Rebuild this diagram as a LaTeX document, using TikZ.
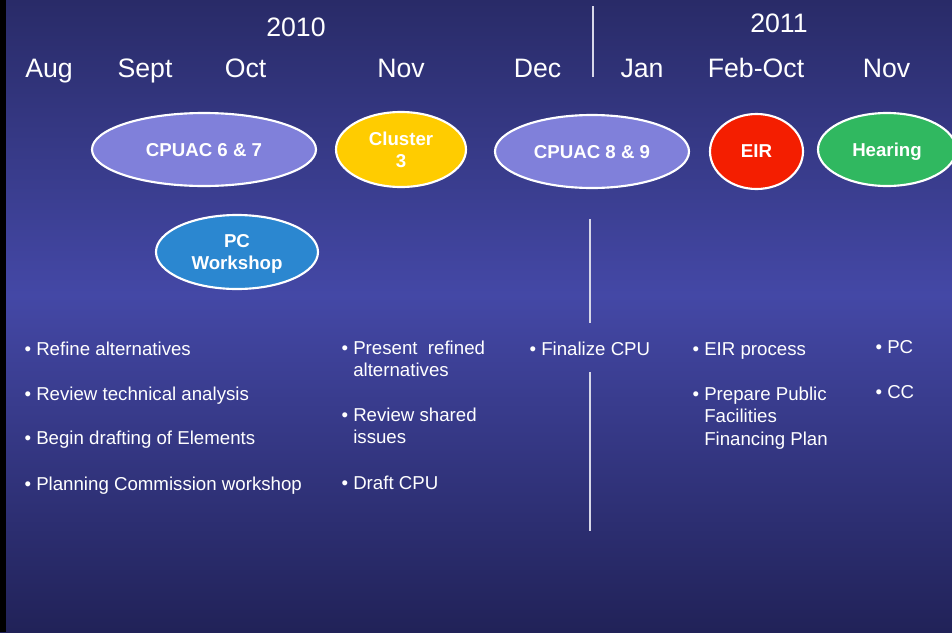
\documentclass[tikz,border=0pt]{standalone}
\usepackage{fontspec}
\setmainfont{Liberation Sans}
\usetikzlibrary{shapes.geometric}
\definecolor{bgtop}{RGB}{41,43,104}
\definecolor{bgmid}{RGB}{68,72,166}
\definecolor{bgbot}{RGB}{33,34,88}
\definecolor{lav}{RGB}{128,128,218}
\definecolor{gold}{RGB}{255,204,0}
\definecolor{eirred}{RGB}{244,30,0}
\definecolor{hgreen}{RGB}{48,184,96}
\definecolor{pcblue}{RGB}{43,135,208}
\definecolor{divc}{RGB}{215,215,232}
\tikzset{
  month/.style={font=\fontsize{20}{24}\selectfont, text=white, inner sep=0pt, anchor=base},
  item/.style={font=\fontsize{14}{17}\selectfont, text=white, inner sep=0pt, anchor=base west},
  oval/.style={ellipse, draw=white, line width=1.6pt, inner sep=0pt, text=white, text depth=0pt,
    font=\bfseries\fontsize{14}{16.5}\selectfont, align=center},
  divider/.style={draw=divc, line width=1pt}
}
\begin{document}
\begin{tikzpicture}[x=0.75pt,y=-0.75pt]
\useasboundingbox (0,0) rectangle (952,632);
\clip (0,0) rectangle (952,632);
% background
\shade[top color=bgtop, bottom color=bgmid] (0,0) rectangle (952,296);
\shade[top color=bgmid, bottom color=bgbot] (0,295) rectangle (952,632);
\fill[black] (0,0) rectangle (6,632);

% years and months
\node[month] (y2010) at (296,36) {2010};
\node[month] (y2011) at (779,32) {2011};
\node[month] (maug) at (49,77.5) {Aug};
\node[month] (msep) at (145,77.5) {Sept};
\node[month] (moct) at (245.5,77.5) {Oct};
\node[month] (mnov) at (401,77.5) {Nov};
\node[month] (mdec) at (537.5,77.5) {Dec};
\node[month] (mjan) at (642,77.5) {Jan};
\node[month] (mfeb) at (756,77.5) {Feb-Oct};
\node[month] (mnov2) at (886.5,77.5) {Nov};

% dividers
\coordinate (d1a) at (593,6);
\coordinate (d1b) at (593,77);
\coordinate (d2a) at (590,219);
\coordinate (d2b) at (590,323);
\coordinate (d3a) at (590,372);
\coordinate (d3b) at (590,531);
\draw[divider] (d1a) -- (d1b);
\draw[divider] (d2a) -- (d2b);
\draw[divider] (d3a) -- (d3b);

% ovals
\node[oval, fill=lav, minimum width=224*0.75pt, minimum height=73*0.75pt] (c67) at (204,149.5) {CPUAC 6 \& 7};
\node[oval, fill=gold, minimum width=130*0.75pt, minimum height=75*0.75pt] (cl3) at (401,149.5) {Cluster\\3};
\node[oval, fill=lav, minimum width=194*0.75pt, minimum height=73*0.75pt] (c89) at (592,151.5) {CPUAC 8 \& 9};
\node[oval, fill=eirred, minimum width=93*0.75pt, minimum height=75*0.75pt] (eir) at (756.5,151.5) {EIR};
\node[oval, fill=hgreen, minimum width=138*0.75pt, minimum height=73*0.75pt] (hear) at (887,149.5) {Hearing};
\node[oval, fill=pcblue, minimum width=162*0.75pt, minimum height=74*0.75pt] (pcw) at (237,252) {PC\\Workshop};

% column 1
\node[item] (a1) at (36,355) {\llap{•\ }Refine alternatives};
\node[item] (a2) at (36,400) {\llap{•\ }Review technical analysis};
\node[item] (a3) at (36,444) {\llap{•\ }Begin drafting of Elements};
\node[item] (a4) at (36,490) {\llap{•\ }Planning Commission workshop};
% column 2
\node[item] (b1) at (353,354) {\vtop{\hbox{\llap{•\ }Present~ refined}\hbox{alternatives}}};
\node[item] (b2) at (353,421) {\vtop{\hbox{\llap{•\ }Review shared}\hbox{issues}}};
\node[item] (b3) at (353,489) {\llap{•\ }Draft CPU};
% column 3
\node[item] (c1) at (541,355) {\llap{•\ }Finalize CPU};
% column 4
\node[item] (e1) at (704,355) {\llap{•\ }EIR process};
\node[item] (e2) at (704,400) {\vtop{\hbox{\llap{•\ }Prepare Public}\hbox{Facilities}\hbox{Financing Plan}}};
% column 5
\node[item] (f1) at (887,353) {\llap{•\ }PC};
\node[item] (f2) at (887,398) {\llap{•\ }CC};
\end{tikzpicture}
\end{document}
